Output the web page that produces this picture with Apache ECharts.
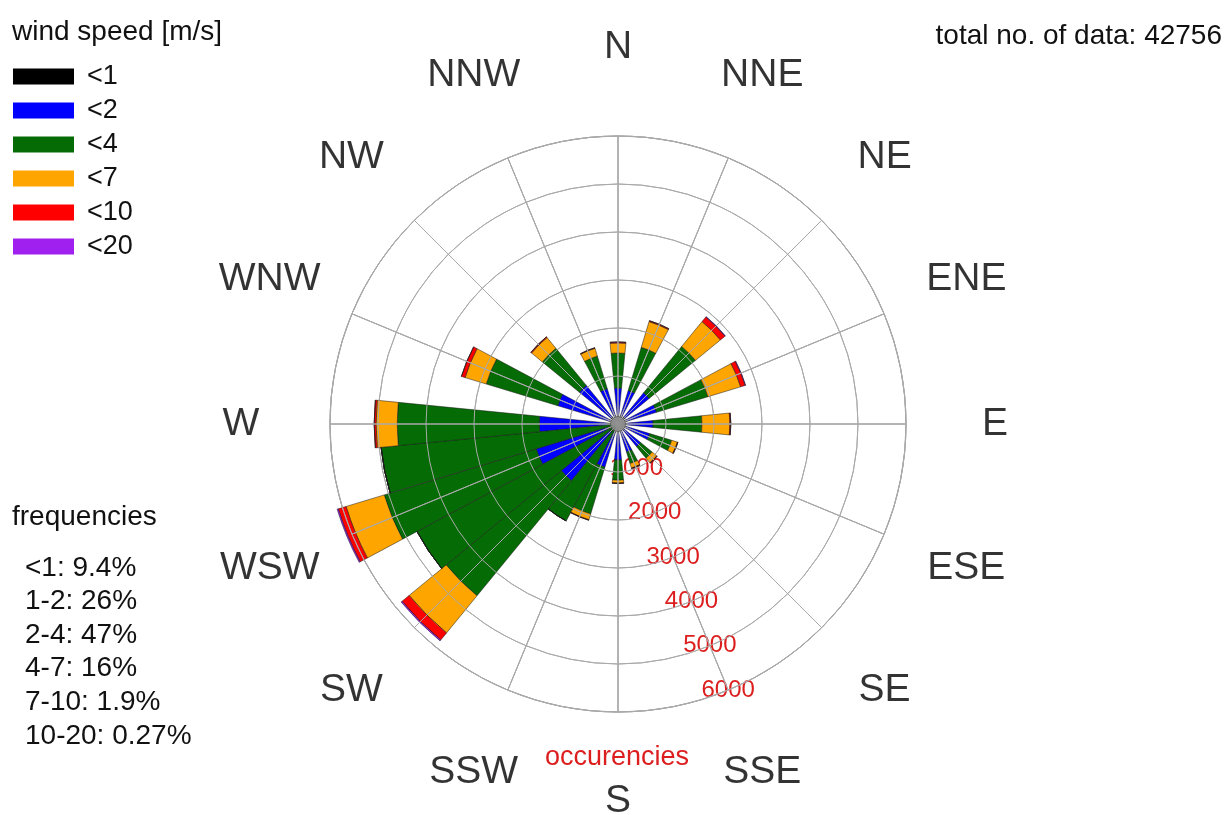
<!DOCTYPE html>
<html><head><meta charset="utf-8">
<script src="https://cdn.jsdelivr.net/npm/echarts@6/dist/echarts.min.js"></script>
<style>html,body{margin:0;padding:0;background:#fff}#c{width:1227px;height:815px}</style>
</head><body><div id="c"></div>
<script>
// ---- data ----
const binDegrees = [0,11.25,22.5,33.75,45,56.25,67.5,78.75,90,101.25,112.5,123.75,135,146.25,157.5,168.75,
                    180,191.25,202.5,213.75,225,236.25,247.5,258.75,270,281.25,292.5,303.75,315,326.25,337.5,348.75];
const speedLabels = ['<1','<2','<4','<7','<10','<20'];
const speedColors = ['#000000','#0000ff','#056b05','#ffa500','#ff0000','#a020f0'];
const calm   = [190,0,190,0,190,0,190,0,190,0,170,0,170,0,170,0,190,0,190,0,220,0,220,0,220,0,190,0,190,0,170,0];
const ws1to2 = [560,0,540,0,650,0,650,0,540,0,520,0,440,0,440,0,560,0,750,0,1310,0,1560,0,1420,0,1120,0,850,0,600,0];
const ws2to4 = [730,0,940,0,1250,0,1120,0,1020,0,480,0,310,0,250,0,420,0,1020,2290,3100,4750,3310,4960,2960,0,1560,0,1000,0,710,0];
const ws4to7 = [210,0,560,0,670,0,710,0,580,0,125,0,125,0,100,0,60,0,125,0,1000,0,830,0,440,0,460,0,290,0,170,0];
const ws7to10= [20,0,20,0,125,0,100,0,20,0,10,0,10,0,10,0,10,0,10,0,190,0,170,0,40,0,80,0,20,0,10,0];
const ws10to20=[0,0,0,0,10,0,10,0,0,0,0,0,0,0,0,0,0,0,0,0,25,0,25,0,0,0,0,0,0,0,0,0];
const classData = [calm, ws1to2, ws2to4, ws4to7, ws7to10, ws10to20];
const compassNames = ['N','NNE','NE','ENE','E','ESE','SE','SSE','S','SSW','SW','WSW','W','WNW','NW','NNW'];
const radiusTicks = [0,1000,2000,3000,4000,5000,6000];
const freqLabels = ['<1','1-2','2-4','4-7','7-10','10-20'];
const freqValues = ['9.4%','26%','47%','16%','1.9%','0.27%'];
const totalCount = 42756;

// ---- chart ----
const FF = "'Liberation Sans', Arial, Helvetica, sans-serif";
const chart = echarts.init(document.getElementById('c'), null, {renderer:'canvas'});
const CENTER = [618, 424], RAD = 288;
const rMax = radiusTicks[radiusTicks.length-1];
const gridStart = 157.5; // compass direction of the radius label ray
const labelRadius = rMax * 377 / RAD;
const GRID = '#a9a9a9';

const bars = speedLabels.map((name, k) => ({
  name, type:'bar', coordinateSystem:'polar', polarIndex:1, stack:'ws',
  data: classData[k], barCategoryGap:'0%', clip:false,
  itemStyle:{color:speedColors[k], borderColor:'rgba(25,25,25,0.85)', borderWidth:0.6}
}));

// grid overlay (drawn after the bars so it sits on top of them, as in the reference)
const spokes = {type:'pie', center:CENTER, startAngle:90, clockwise:true, silent:true, radius:[0, RAD],
  label:{show:false}, labelLine:{show:false}, emphasis:{disabled:true}, legendHoverLink:false,
  itemStyle:{color:'rgba(0,0,0,0)', borderColor:GRID, borderWidth:1},
  data: compassNames.map(n => ({name:n, value:1}))};
const rings = {type:'custom', coordinateSystem:'polar', polarIndex:0, silent:true, clip:false, z:10,
  data: radiusTicks.filter(t => t > 0).map(t => [t, 0]),
  renderItem: function (params, api) {
    const cs = params.coordSys;
    const p = api.coord([api.value(0), api.value(1)]);
    const r = Math.sqrt((p[0]-cs.cx)*(p[0]-cs.cx) + (p[1]-cs.cy)*(p[1]-cs.cy));
    return {type:'circle', z2:100, silent:true, shape:{cx:cs.cx, cy:cs.cy, r:r},
            style:{fill:null, stroke:GRID, lineWidth:1}};
  }};

chart.setOption({
  animation:false,
  textStyle:{fontFamily:FF},
  polar:[{center:CENTER, radius:RAD},{center:CENTER, radius:RAD}],
  angleAxis:[
    {polarIndex:0, type:'value', min:0, max:360, interval:22.5, startAngle:90-gridStart, clockwise:true,
     axisLine:{show:true, lineStyle:{color:GRID, width:1}},
     axisTick:{show:false}, axisLabel:{show:false},
     splitLine:{show:true, lineStyle:{color:GRID, width:1}}},
    {polarIndex:1, type:'category', data:binDegrees, startAngle:90+11.25/2, clockwise:true, show:false,
     boundaryGap:true}
  ],
  radiusAxis:[
    {polarIndex:0, type:'value', min:0, max:rMax, interval:1000,
     axisLine:{show:false}, axisTick:{show:false},
     splitLine:{show:true, lineStyle:{color:GRID, width:1}},
     axisLabel:{show:true, showMinLabel:false, margin:0, align:'center', verticalAlign:'middle',
       color:'#dc1e1e', fontSize:24, fontFamily:FF, textBorderColor:'#fff', textBorderWidth:2,
       formatter: v => (v === 0 ? '' : String(v))}},
    {polarIndex:1, type:'value', min:0, max:rMax, show:false}
  ],
  legend:{orient:'vertical', left:8, top:58, itemWidth:61, itemHeight:16, itemGap:7, icon:'rect',
    data:speedLabels, selectedMode:false, itemStyle:{borderWidth:0},
    textStyle:{fontSize:27, lineHeight:26, color:'#111', fontFamily:FF, padding:[0,0,0,8]}},
  title:[
    {text:'wind speed [m/s]', left:7, top:13, textStyle:{fontSize:28, fontWeight:'normal', color:'#111', fontFamily:FF}},
    {text:'total no. of data: ' + totalCount, right:0, top:17, textStyle:{fontSize:28, fontWeight:'normal', color:'#111', fontFamily:FF}},
    {text:'frequencies', left:7, top:498, textStyle:{fontSize:28, fontWeight:'normal', color:'#111', fontFamily:FF}},
    {text: freqLabels.map((l,i)=> l + ': ' + freqValues[i]).join('\n'), left:20, top:546,
     textStyle:{fontSize:28, fontWeight:'normal', color:'#111', fontFamily:FF, lineHeight:33.6}},
    {text:'occurencies', left:540, top:739, textStyle:{fontSize:27, fontWeight:'normal', color:'#dc1e1e', fontFamily:FF}}
  ],
  series: bars.concat([spokes, rings,
    {type:'scatter', coordinateSystem:'polar', polarIndex:0, clip:false, silent:true, z:20,
     symbolSize:15, data:[[0,0]], itemStyle:{color:'#8c8c8c', borderColor:'#555', borderWidth:1}},
    {type:'scatter', coordinateSystem:'polar', polarIndex:0, clip:false, silent:true,
     symbolSize:0.1, itemStyle:{color:'rgba(0,0,0,0)'},
     data: compassNames.map((n,i)=>({name:n, value:[labelRadius, ((i*22.5 - gridStart) % 360 + 360) % 360]})),
     label:{show:true, position:'inside', formatter:'{b}', fontSize:39, color:'#000', fontFamily:FF}}
  ])
});
</script></body></html>
